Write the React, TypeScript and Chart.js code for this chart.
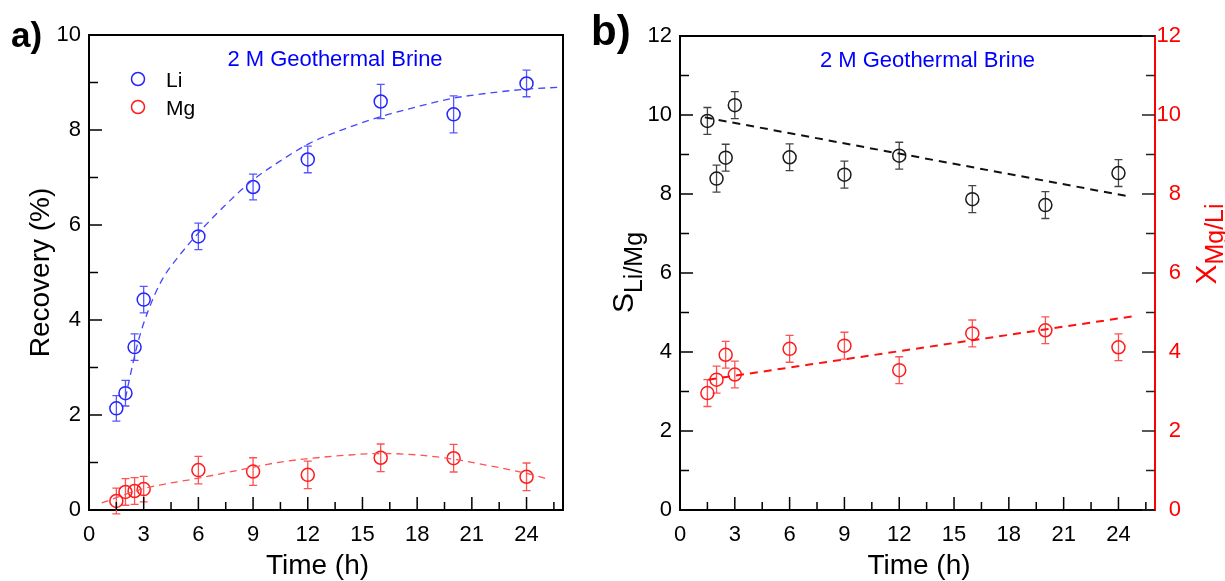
import React, { useEffect, useRef } from "react";
import { Chart, registerables } from "chart.js";
Chart.register(...registerables);

// ---------- data ----------
const timeH = [1.5, 2, 2.5, 3, 6, 9, 12, 16, 20, 24];

const liRecovery = [2.14, 2.46, 3.43, 4.43, 5.76, 6.8, 7.38, 8.6, 8.33, 8.98];
const liRecoveryErr = [0.27, 0.27, 0.28, 0.28, 0.28, 0.27, 0.28, 0.36, 0.39, 0.28];
const mgRecovery = [0.19, 0.38, 0.4, 0.44, 0.84, 0.81, 0.74, 1.1, 1.09, 0.7];
const mgRecoveryErr = [0.27, 0.28, 0.28, 0.27, 0.29, 0.29, 0.29, 0.29, 0.29, 0.29];

const liFitTime = [2.0, 2.2, 2.7, 3.25, 4.0, 4.9, 6.0, 7.4, 9.0, 10.5, 12.1, 14, 16, 18, 20, 22, 24, 25.8];
const liFitValue = [2.35, 2.72, 3.55, 4.2, 4.84, 5.33, 5.83, 6.39, 6.95, 7.35, 7.72, 8.02, 8.28, 8.49, 8.67, 8.78, 8.86, 8.9];
const mgFitTime = [0.7, 3, 6, 9, 10.5, 12, 14, 16, 18, 20, 22, 24, 25.2];
const mgFitValue = [0.15, 0.45, 0.67, 0.9, 1.01, 1.08, 1.15, 1.19, 1.16, 1.07, 0.93, 0.77, 0.65];

const selectivity = [9.85, 8.39, 8.92, 10.25, 8.93, 8.49, 8.97, 7.87, 7.72, 8.53];
const selectivityErr = [0.34, 0.34, 0.34, 0.34, 0.34, 0.34, 0.34, 0.34, 0.34, 0.34];
const ratioMgLi = [2.96, 3.3, 3.93, 3.43, 4.08, 4.16, 3.54, 4.47, 4.55, 4.12];
const ratioMgLiErr = [0.34, 0.34, 0.34, 0.34, 0.34, 0.34, 0.34, 0.34, 0.34, 0.34];

const selFitTime = [1.36, 24.45];
const selFitValue = [9.94, 7.95];
const ratioFitTime = [1.55, 24.9];
const ratioFitValue = [3.3, 4.91];

const xMajorTicks = [0, 3, 6, 9, 12, 15, 18, 21, 24];
const xMinorTicks = [1.5, 4.5, 7.5, 10.5, 13.5, 16.5, 19.5, 22.5, 25.5];
const yMajorA = [0, 2, 4, 6, 8, 10];
const yMinorA = [1, 3, 5, 7, 9];
const yMajorB = [0, 2, 4, 6, 8, 10, 12];
const yMinorB = [1, 3, 5, 7, 9, 11];

const annotationText = "2 M Geothermal Brine";

// ---------- styles ----------
const FONT = '"Liberation Sans", Arial, Helvetica, sans-serif';
const BLUE = "#2424ff";
const BLUE_ERR = "#5656ff";
const BLUE_FIT = "#4646ff";
const RED = "#ff1c1c";
const RED_ERR = "#ff5252";
const BLACK = "#1a1a1a";
const BLACK_ERR = "#444444";

const pts = (xs: number[], ys: number[]) => xs.map((x, i) => ({ x, y: ys[i] }));

type ErrSet = { x: number[]; y: number[]; err: number[]; axis: string; color: string };

const errorBarPlugin = (sets: ErrSet[]) => ({
  id: "errorBars",
  beforeDatasetsDraw(chart: any) {
    const ctx = chart.ctx;
    const xs = chart.scales.x;
    ctx.save();
    for (const s of sets) {
      const ys = chart.scales[s.axis];
      ctx.strokeStyle = s.color;
      ctx.lineWidth = 1.3;
      s.x.forEach((xv, i) => {
        const px = xs.getPixelForValue(xv);
        const top = ys.getPixelForValue(s.y[i] + s.err[i]);
        const bot = ys.getPixelForValue(s.y[i] - s.err[i]);
        ctx.beginPath();
        ctx.moveTo(px, top);
        ctx.lineTo(px, bot);
        ctx.moveTo(px - 4, top);
        ctx.lineTo(px + 4, top);
        ctx.moveTo(px - 4, bot);
        ctx.lineTo(px + 4, bot);
        ctx.stroke();
      });
    }
    ctx.restore();
  },
});

function drawXTicks(ctx: any, chart: any) {
  const sx = chart.scales.x;
  const b = chart.chartArea.bottom;
  ctx.beginPath();
  xMajorTicks.forEach((v) => {
    const p = sx.getPixelForValue(v);
    ctx.moveTo(p, b);
    ctx.lineTo(p, b - 13);
  });
  xMinorTicks.forEach((v) => {
    const p = sx.getPixelForValue(v);
    ctx.moveTo(p, b);
    ctx.lineTo(p, b - 8);
  });
  ctx.stroke();
}

function drawYTicks(ctx: any, chart: any, axis: string, majors: number[], minors: number[], side: "left" | "right") {
  const s = chart.scales[axis];
  const edge = side === "left" ? chart.chartArea.left : chart.chartArea.right;
  const dir = side === "left" ? 1 : -1;
  ctx.beginPath();
  majors.forEach((v) => {
    const p = s.getPixelForValue(v);
    ctx.moveTo(edge, p);
    ctx.lineTo(edge + dir * 13, p);
  });
  minors.forEach((v) => {
    const p = s.getPixelForValue(v);
    ctx.moveTo(edge, p);
    ctx.lineTo(edge + dir * 9, p);
  });
  ctx.stroke();
}

type Part = { text: string; size: number; shift: number; color: string };
function drawVertical(ctx: any, baselineX: number, centerY: number, parts: Part[]) {
  let total = 0;
  const widths = parts.map((p) => {
    ctx.font = `${p.size}px ${FONT}`;
    const w = ctx.measureText(p.text).width;
    total += w;
    return w;
  });
  ctx.save();
  ctx.translate(baselineX, centerY);
  ctx.rotate(-Math.PI / 2);
  ctx.textAlign = "left";
  ctx.textBaseline = "alphabetic";
  let u = -total / 2;
  parts.forEach((p, i) => {
    ctx.font = `${p.size}px ${FONT}`;
    ctx.fillStyle = p.color;
    ctx.fillText(p.text, u, p.shift);
    u += widths[i];
  });
  ctx.restore();
}

function drawText(ctx: any, text: string, x: number, y: number, size: number, color: string, align: string, bold = false) {
  ctx.font = `${bold ? "bold " : ""}${size}px ${FONT}`;
  ctx.fillStyle = color;
  ctx.textAlign = align;
  ctx.textBaseline = "alphabetic";
  ctx.fillText(text, x, y);
}

const decorA = {
  id: "decorA",
  afterDraw(chart: any) {
    const ctx = chart.ctx;
    const ca = chart.chartArea;
    ctx.save();
    ctx.strokeStyle = "#000";
    ctx.lineWidth = 2;
    ctx.beginPath();
    ctx.moveTo(ca.left - 1, ca.top);
    ctx.lineTo(ca.right, ca.top);
    ctx.lineTo(ca.right, ca.bottom + 1);
    ctx.stroke();
    ctx.lineWidth = 1.5;
    drawXTicks(ctx, chart);
    drawYTicks(ctx, chart, "y", yMajorA, yMinorA, "left");
    drawText(ctx, annotationText, (ca.left + ca.right) / 2 + 9, 66, 22, "#0000ff", "center");
    const ds = chart.data.datasets;
    const legendItems = [ds[2], ds[3]];
    legendItems.forEach((d: any, i: number) => {
      const cy = 79 + i * 28;
      ctx.beginPath();
      ctx.strokeStyle = d.pointBorderColor;
      ctx.lineWidth = 1.5;
      ctx.arc(138, cy, 6.5, 0, Math.PI * 2);
      ctx.stroke();
      drawText(ctx, d.label, 166, cy + 8, 21, "#000", "left");
    });
    drawText(ctx, "a)", 11, 47, 35, "#000", "left", true);
    drawText(ctx, "Time (h)", 317.5, 574, 28, "#000", "center");
    drawVertical(ctx, 49, 272.5, [{ text: "Recovery (%)", size: 28, shift: 0, color: "#000" }]);
    ctx.restore();
  },
};

const OFFB = 580;
const decorB = {
  id: "decorB",
  afterDraw(chart: any) {
    const ctx = chart.ctx;
    const ca = chart.chartArea;
    ctx.save();
    ctx.strokeStyle = "#000";
    ctx.lineWidth = 2;
    ctx.beginPath();
    ctx.moveTo(ca.left - 1, ca.top);
    ctx.lineTo(ca.right, ca.top);
    ctx.stroke();
    ctx.lineWidth = 1.5;
    ctx.strokeStyle = "#000";
    drawXTicks(ctx, chart);
    drawYTicks(ctx, chart, "y", yMajorB, yMinorB, "left");
    ctx.strokeStyle = "#222";
    drawYTicks(ctx, chart, "y2", yMajorB, yMinorB, "right");
    drawText(ctx, annotationText, (ca.left + ca.right) / 2 + 10, 67, 22, "#0000ff", "center");
    drawText(ctx, "b)", 591 - OFFB, 45, 42, "#000", "left", true);
    drawText(ctx, "Time (h)", 919 - OFFB, 574, 28, "#000", "center");
    drawVertical(ctx, 633 - OFFB, 272.5, [
      { text: "S", size: 30, shift: 0, color: "#000" },
      { text: "Li/Mg", size: 25, shift: 9, color: "#000" },
    ]);
    drawVertical(ctx, 1216 - OFFB, 244, [
      { text: "X", size: 30, shift: 0, color: "#ff0000" },
      { text: "Mg/Li", size: 25, shift: 7, color: "#ff0000" },
    ]);
    ctx.restore();
  },
};

const tickFont = { family: FONT, size: 22 };

function xScale(height: number) {
  return {
    type: "linear" as const,
    min: 0,
    max: 26,
    afterFit: (s: any) => {
      s.height = height;
    },
    afterBuildTicks: (s: any) => {
      s.ticks = xMajorTicks.map((v) => ({ value: v }));
    },
    grid: { display: false, drawTicks: false },
    border: { display: true, color: "#000", width: 2 },
    ticks: { font: tickFont, color: "#000", padding: 12, maxRotation: 0, autoSkip: false },
  };
}

function yScale(max: number, majors: number[], width: number, position: string, color: string, padding: number, crossAlign: string) {
  return {
    type: "linear" as const,
    position,
    min: 0,
    max,
    afterFit: (s: any) => {
      s.width = width;
    },
    afterBuildTicks: (s: any) => {
      s.ticks = majors.map((v) => ({ value: v }));
    },
    grid: { display: false, drawTicks: false },
    border: { display: true, color, width: 2 },
    ticks: { font: tickFont, color, padding, autoSkip: false, crossAlign },
  };
}

function pointDataset(label: string, xs: number[], ys: number[], color: string, axis = "y") {
  return {
    label,
    data: pts(xs, ys),
    yAxisID: axis,
    showLine: false,
    pointRadius: 6.5,
    pointBorderWidth: 1.5,
    pointBackgroundColor: "rgba(0,0,0,0)",
    pointBorderColor: color,
    borderColor: color,
  };
}

function fitDataset(label: string, xs: number[], ys: number[], color: string, width: number, dash: number[], axis = "y") {
  return {
    label,
    data: pts(xs, ys),
    yAxisID: axis,
    showLine: true,
    pointRadius: 0,
    borderColor: color,
    borderWidth: width,
    borderDash: dash,
    cubicInterpolationMode: "monotone" as const,
    fill: false,
  };
}

export default function App() {
  const refA = useRef<HTMLCanvasElement>(null);
  const refB = useRef<HTMLCanvasElement>(null);

  useEffect(() => {
    const chartA = new Chart(refA.current as HTMLCanvasElement, {
      type: "scatter",
      data: {
        datasets: [
          fitDataset("Li fit", liFitTime, liFitValue, BLUE_FIT, 1.3, [7, 5]),
          fitDataset("Mg fit", mgFitTime, mgFitValue, RED_ERR, 1.3, [7, 5]),
          pointDataset("Li", timeH, liRecovery, BLUE),
          pointDataset("Mg", timeH, mgRecovery, RED),
        ],
      } as any,
      options: {
        animation: false,
        responsive: false,
        events: [],
        layout: { padding: { left: 0, top: 35, right: 37, bottom: 0 } },
        plugins: { legend: { display: false }, tooltip: { enabled: false } },
        scales: {
          x: xScale(71),
          y: yScale(10, yMajorA, 89, "left", "#000", 8, "near"),
        } as any,
      },
      plugins: [
        errorBarPlugin([
          { x: timeH, y: liRecovery, err: liRecoveryErr, axis: "y", color: BLUE_ERR },
          { x: timeH, y: mgRecovery, err: mgRecoveryErr, axis: "y", color: RED_ERR },
        ]),
        decorA,
      ],
    });

    const chartB = new Chart(refB.current as HTMLCanvasElement, {
      type: "scatter",
      data: {
        datasets: [
          fitDataset("S fit", selFitTime, selFitValue, "#111", 2, [8, 6], "y"),
          fitDataset("X fit", ratioFitTime, ratioFitValue, "#ff1010", 2, [8, 6], "y2"),
          pointDataset("S Li/Mg", timeH, selectivity, BLACK, "y"),
          pointDataset("X Mg/Li", timeH, ratioMgLi, RED, "y2"),
        ],
      } as any,
      options: {
        animation: false,
        responsive: false,
        events: [],
        layout: { padding: { left: 0, top: 36, right: 44, bottom: 0 } },
        plugins: { legend: { display: false }, tooltip: { enabled: false } },
        scales: {
          x: xScale(71),
          y: yScale(12, yMajorB, 100, "left", "#000", 8, "near"),
          y2: yScale(12, yMajorB, 26, "right", "#ff0000", 2, "far"),
        } as any,
      },
      plugins: [
        errorBarPlugin([
          { x: timeH, y: selectivity, err: selectivityErr, axis: "y", color: BLACK_ERR },
          { x: timeH, y: ratioMgLi, err: ratioMgLiErr, axis: "y2", color: RED_ERR },
        ]),
        decorB,
      ],
    });

    return () => {
      chartA.destroy();
      chartB.destroy();
    };
  }, []);

  return (
    <div style={{ position: "fixed", left: 0, top: 0, width: 1225, height: 581, background: "#fff", overflow: "hidden" }}>
      <canvas ref={refA} width={600} height={581} style={{ position: "absolute", left: 0, top: 0 }} />
      <canvas ref={refB} width={645} height={581} style={{ position: "absolute", left: OFFB, top: 0 }} />
    </div>
  );
}
